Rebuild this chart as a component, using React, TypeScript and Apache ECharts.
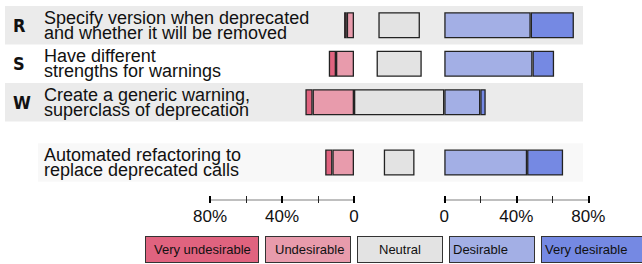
import React, { useEffect, useRef } from "react";
import * as echarts from "echarts";

const codes = ["R", "S", "W"];
const topDescriptions = [
  "Specify version when deprecated\nand whether it will be removed",
  "Have different\nstrengths for warnings",
  "Create a generic warning,\nsuperclass of deprecation",
];
const bottomDescriptions = ["Automated refactoring to\nreplace deprecated calls"];

const seriesNames = ["Very undesirable", "Undesirable", "Neutral", "Desirable", "Very desirable"];
const seriesColors = ["#e0637f", "#e89bac", "#e3e3e3", "#a3afe5", "#7589e3"];

// rows: R, S, W, Automated
const veryUndesirable = [1.5, 4, 4, 4];
const undesirable = [4, 10, 23, 12];
const neutral = [23, 25, 50, 17];
const desirable = [48, 49, 20, 46];
const veryDesirable = [24, 12, 3, 20];

const tickValues = [0, 40, 80];
const tickLabels = ["0", "40%", "80%"];

const FONT = "'Liberation Sans', Arial, Helvetica, sans-serif";

export default function App() {
  const ref = useRef<HTMLDivElement>(null);
  useEffect(() => {
    if (!ref.current) return;
    const chart = echarts.init(ref.current, null, { renderer: "svg" });

    const topY = 6;
    const topH = 115.5;
    const botY = 143.3;
    const botH = 38.5;
    const leftL = 210, leftW = 144;
    const midL = 354, midW = 90.3;
    const rightL = 444.3, rightW = 144;

    const grids = [
      { left: 5, top: topY, width: 578, height: topH },
      { left: 44, top: topY, width: 1, height: topH },
      { left: 38, top: botY, width: 545, height: botH },
      { left: leftL, top: topY, width: leftW, height: topH },
      { left: midL, top: topY, width: midW, height: topH },
      { left: rightL, top: topY, width: rightW, height: topH },
      { left: leftL, top: botY, width: leftW, height: botH },
      { left: midL, top: botY, width: midW, height: botH },
      { left: rightL, top: botY, width: rightW, height: botH },
    ];

    const hiddenX = (gridIndex: number, max = 1, inverse = false) => ({
      type: "value", gridIndex, min: 0, max, inverse, show: false,
    });

    const fmt = (v: number) => {
      const i = tickValues.indexOf(v);
      return i >= 0 ? tickLabels[i] : "";
    };

    const tickAxis = (gridIndex: number, inverse: boolean) => ({
      type: "value", gridIndex, min: 0, max: 80, interval: 40, inverse,
      position: "bottom", offset: 14.2,
      axisLine: { show: false },
      splitLine: { show: false },
      axisTick: { show: true, length: 7, lineStyle: { color: "#000", width: 2 } },
      minorTick: { show: true, splitNumber: 2, length: 7, lineStyle: { color: "#222", width: 1 } },
      axisLabel: {
        margin: 12, fontSize: 17, color: "#111", fontFamily: FONT,
        formatter: fmt,
      },
    });

    const lineAxis = (gridIndex: number, inverse: boolean) => ({
      type: "value", gridIndex, min: 0, max: 80, inverse,
      position: "bottom", offset: 18.2,
      axisLine: { show: true, lineStyle: { color: "#aaa", width: 1.5 } },
      axisTick: { show: false },
      axisLabel: { show: false },
      splitLine: { show: false },
    });

    const xAxis = [
      hiddenX(0), hiddenX(1), hiddenX(2),
      hiddenX(3, 80, true), hiddenX(4, 50), hiddenX(5, 80),
      tickAxis(6, true), hiddenX(7, 50), tickAxis(8, false),
      lineAxis(6, true), lineAxis(8, false),
    ];

    const hiddenY = (gridIndex: number, data: string[]) => ({
      type: "category", gridIndex, data, inverse: true, show: false,
    });

    const descLabel = { fontSize: 18, lineHeight: 15, color: "#111", fontFamily: FONT };

    const yAxis = [
      {
        type: "category", gridIndex: 0, data: codes, inverse: true,
        axisLine: { show: false }, axisTick: { show: false },
        splitLine: { show: false },
        splitArea: { show: true, areaStyle: { color: ["#ebebeb", "rgba(0,0,0,0)"] } },
        axisLabel: {
          inside: true, margin: 8, fontSize: 18, fontWeight: "bold", color: "#111",
          fontFamily: "'Liberation Sans Narrow', 'DejaVu Sans Condensed', Arial, sans-serif",
        },
      },
      {
        type: "category", gridIndex: 1, data: topDescriptions, inverse: true,
        axisLine: { show: false }, axisTick: { show: false },
        axisLabel: { inside: true, margin: 0, ...descLabel },
      },
      {
        type: "category", gridIndex: 2, data: bottomDescriptions, inverse: true,
        axisLine: { show: false }, axisTick: { show: false },
        splitLine: { show: false },
        splitArea: { show: true, areaStyle: { color: ["#f8f8f8"] } },
        axisLabel: { inside: true, margin: 6, ...descLabel },
      },
      hiddenY(3, codes), hiddenY(4, codes), hiddenY(5, codes),
      hiddenY(6, ["A"]), hiddenY(7, ["A"]), hiddenY(8, ["A"]),
    ];

    const barStyle = (color: string) => ({ color, borderColor: "#222", borderWidth: 1.3 });

    const makeBars = (rows: number[], gL: number, gM: number, gR: number, tag: string) => {
      const pick = (arr: number[]) => rows.map((r) => arr[r]);
      const common = { type: "bar", barWidth: 26 };
      return [
        { ...common, name: seriesNames[1], xAxisIndex: gL, yAxisIndex: gL, stack: "neg" + tag, data: pick(undesirable), itemStyle: barStyle(seriesColors[1]) },
        { ...common, name: seriesNames[0], xAxisIndex: gL, yAxisIndex: gL, stack: "neg" + tag, data: pick(veryUndesirable), itemStyle: barStyle(seriesColors[0]) },
        { ...common, name: "spacer", xAxisIndex: gM, yAxisIndex: gM, stack: "mid" + tag, silent: true,
          data: pick(neutral).map((n) => (50 - n) / 2), itemStyle: { color: "rgba(0,0,0,0)", borderWidth: 0 } },
        { ...common, name: seriesNames[2], xAxisIndex: gM, yAxisIndex: gM, stack: "mid" + tag, data: pick(neutral), itemStyle: barStyle(seriesColors[2]) },
        { ...common, name: seriesNames[3], xAxisIndex: gR, yAxisIndex: gR, stack: "pos" + tag, data: pick(desirable), itemStyle: barStyle(seriesColors[3]) },
        { ...common, name: seriesNames[4], xAxisIndex: gR, yAxisIndex: gR, stack: "pos" + tag, data: pick(veryDesirable), itemStyle: barStyle(seriesColors[4]) },
      ];
    };

    const legendBoxes = [
      { padL: 8, w: 104 },
      { padL: 9, w: 75 },
      { padL: 21, w: 63 },
      { padL: 3, w: 81 },
      { padL: 3, w: 102 },
    ];

    chart.setOption({
      animation: false,
      grid: grids,
      xAxis,
      yAxis,
      legend: {
        left: 140, top: 236, width: 800, padding: 0, itemGap: 1, itemWidth: 0, itemHeight: 0,
        selectedMode: false,
        data: seriesNames.map((name, i) => ({
          name,
          icon: "rect",
          itemStyle: { opacity: 0 },
          textStyle: {
            fontSize: 13, lineHeight: 14, color: "#111", fontFamily: FONT,
            backgroundColor: seriesColors[i], borderColor: "#333", borderWidth: 1,
            padding: [6, 0, 5, legendBoxes[i].padL], width: legendBoxes[i].w,
          },
        })),
      },
      series: [
        ...makeBars([0, 1, 2], 3, 4, 5, "t"),
        ...makeBars([3], 6, 7, 8, "b"),
      ],
    });
    return () => chart.dispose();
  }, []);
  return <div ref={ref} style={{ width: 642, height: 264, position: "absolute", left: 0, top: 0 }} />;
}
